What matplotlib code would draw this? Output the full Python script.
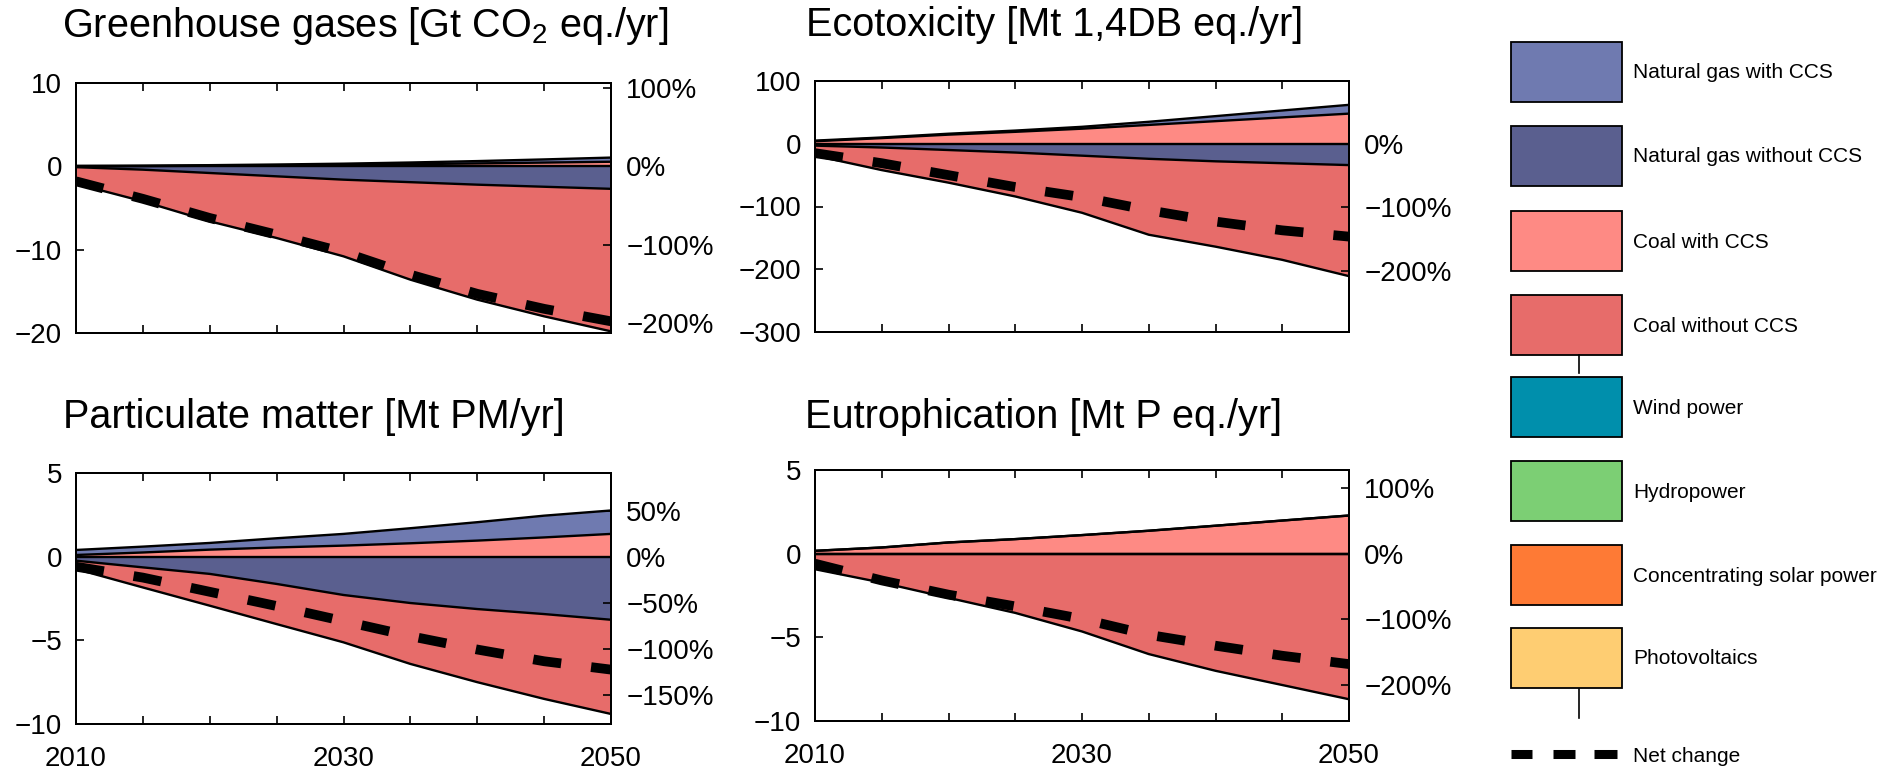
import numpy as np
import matplotlib
matplotlib.use('Agg')
import matplotlib.pyplot as plt
from matplotlib.patches import Rectangle
from matplotlib.lines import Line2D
from matplotlib.transforms import ScaledTranslation

plt.rcParams['font.family'] = ['Liberation Sans', 'DejaVu Sans']
plt.rcParams['mathtext.fontset'] = 'custom'
plt.rcParams['mathtext.rm'] = 'Liberation Sans'
plt.rcParams['mathtext.default'] = 'regular'

W, H = 1880, 773

years = [2010, 2015, 2020, 2025, 2030, 2035, 2040, 2045, 2050]

# greenhouse gases [Gt CO2 eq./yr]
ghg_coal_ccs = [0.0, 0.03, 0.07, 0.12, 0.18, 0.26, 0.35, 0.45, 0.55]
ghg_gas_ccs = [0.05, 0.05, 0.07, 0.1, 0.14, 0.2, 0.28, 0.38, 0.5]
ghg_gas_wo = [-0.1, -0.4, -0.8, -1.2, -1.6, -1.9, -2.2, -2.45, -2.7]
ghg_coal_wo = [-2.0, -3.8, -5.8, -7.4, -9.2, -11.7, -13.8, -15.55, -17.1]
ghg_net = [-1.8, -3.9, -6.2, -8.2, -10.3, -13.0, -15.3, -17.1, -18.6]
ghg_base = 9.4   # value that equals 100% on the right axis

# ecotoxicity [Mt 1,4DB eq./yr]
eco_coal_ccs = [4, 9, 14.5, 19, 24, 30, 36, 42, 48]
eco_gas_ccs = [1, 1, 1.5, 2, 3, 5, 8, 11, 14]
eco_gas_wo = [-3, -6, -10, -14, -19, -24, -28, -31, -34]
eco_coal_wo = [-16, -36, -52, -70, -91, -121, -136, -154, -177]
eco_net = [-15, -31, -50, -69, -85, -106, -124, -138, -148]
eco_base = 101

# particulate matter [Mt PM/yr]
pm_coal_ccs = [0.1, 0.25, 0.42, 0.55, 0.66, 0.8, 0.96, 1.15, 1.36]
pm_gas_ccs = [0.3, 0.35, 0.4, 0.55, 0.7, 0.9, 1.1, 1.3, 1.4]
pm_gas_wo = [-0.24, -0.64, -1.03, -1.63, -2.29, -2.77, -3.13, -3.43, -3.77]
pm_coal_wo = [-0.5, -1.2, -1.9, -2.4, -2.83, -3.64, -4.37, -5.07, -5.63]
pm_net = [-0.6, -1.25, -2.1, -2.95, -3.85, -4.75, -5.55, -6.25, -6.75]
pm_base = 5.5

# eutrophication [Mt P eq./yr]
eut_coal_ccs = [0.17, 0.37, 0.67, 0.87, 1.11, 1.37, 1.67, 1.98, 2.28]
eut_gas_ccs = [0, 0, 0, 0, 0, 0, 0, 0, 0]
eut_gas_wo = [0, 0, 0, 0, 0, 0, 0, 0, 0]
eut_coal_wo = [-0.93, -1.73, -2.64, -3.54, -4.65, -6.0, -7.0, -7.85, -8.7]
eut_net = [-0.6, -1.6, -2.45, -3.15, -3.9, -4.85, -5.5, -6.1, -6.6]
eut_base = 3.92

legend_labels = ['Natural gas with CCS', 'Natural gas without CCS', 'Coal with CCS',
                 'Coal without CCS', 'Wind power', 'Hydropower',
                 'Concentrating solar power', 'Photovoltaics']
legend_colors = ['#6f7ab0', '#5a5f8f', '#fe8a84', '#e76c6a',
                 '#008fac', '#7ccf74', '#fe7a35', '#fecd72']
c_gas_ccs, c_gas_wo, c_coal_ccs, c_coal_wo = legend_colors[:4]

fig = plt.figure(figsize=(W / 100, H / 100), dpi=100)


def px_axes(left, top, width, height):
    return fig.add_axes([left / W, 1 - (top + height) / H, width / W, height / H])


def fmt_pct(v):
    return ('%d%%' % v).replace('-', '\u2212')


def draw_panel(ax, coal_ccs, gas_ccs, gas_wo, coal_wo, net, ylim, yticks, base, rticks, xlabels):
    yrs = np.array(years)
    p1 = np.array(coal_ccs, float)
    p2 = p1 + np.array(gas_ccs, float)
    n1 = np.array(gas_wo, float)
    n2 = n1 + np.array(coal_wo, float)
    ax.fill_between(yrs, 0, p1, color=c_coal_ccs, lw=0)
    ax.fill_between(yrs, p1, p2, color=c_gas_ccs, lw=0)
    ax.fill_between(yrs, 0, n1, color=c_gas_wo, lw=0)
    ax.fill_between(yrs, n1, n2, color=c_coal_wo, lw=0)
    for b in (p1, p2, n1, n2, np.zeros(len(yrs))):
        ax.plot(yrs, b, color='k', lw=1.7)
    ax.plot(yrs, net, color='k', lw=7, dashes=(2.9, 3.1), dash_capstyle='butt')

    ax.set_xlim(2010, 2050)
    ax.set_ylim(*ylim)
    ax.set_yticks(yticks)
    ax.set_yticklabels([str(v).replace('-', '\u2212') for v in yticks])
    ax.set_xticks([2010, 2030, 2050])
    ax.set_xticks(np.arange(2015, 2050, 5), minor=True)
    if xlabels:
        ax.set_xticklabels(['2010', '2030', '2050'])
        shift = ScaledTranslation(8 / 100, 0, fig.dpi_scale_trans)
        for lab in ax.get_xticklabels():
            lab.set_transform(lab.get_transform() + shift)
    else:
        ax.set_xticklabels([])
    ax.tick_params(axis='x', which='both', direction='in', top=True, length=6,
                   width=1.2, labelsize=20, pad=16)
    ax.tick_params(axis='y', direction='in', length=6, width=1.2, labelsize=20, pad=10)
    for s in ax.spines.values():
        s.set_linewidth(1.4)

    ax2 = ax.twinx()
    ax2.set_ylim(ylim[0] / base * 100, ylim[1] / base * 100)
    ax2.set_yticks(rticks)
    ax2.set_yticklabels([fmt_pct(v) for v in rticks])
    ax2.tick_params(axis='y', direction='in', length=6, width=1.2, labelsize=20, pad=11)
    for s in ax2.spines.values():
        s.set_linewidth(1.4)


ax_ghg = px_axes(76, 83, 535, 250)
draw_panel(ax_ghg, ghg_coal_ccs, ghg_gas_ccs, ghg_gas_wo, ghg_coal_wo, ghg_net,
           (-20, 10), [10, 0, -10, -20], ghg_base, [100, 0, -100, -200], False)

ax_eco = px_axes(815, 81, 534, 251)
draw_panel(ax_eco, eco_coal_ccs, eco_gas_ccs, eco_gas_wo, eco_coal_wo, eco_net,
           (-300, 100), [100, 0, -100, -200, -300], eco_base, [0, -100, -200], False)

ax_pm = px_axes(76, 473, 535, 251)
draw_panel(ax_pm, pm_coal_ccs, pm_gas_ccs, pm_gas_wo, pm_coal_wo, pm_net,
           (-10, 5), [5, 0, -5, -10], pm_base, [50, 0, -50, -100, -150], True)

ax_eut = px_axes(815, 470, 534, 251)
draw_panel(ax_eut, eut_coal_ccs, eut_gas_ccs, eut_gas_wo, eut_coal_wo, eut_net,
           (-10, 5), [5, 0, -5, -10], eut_base, [100, 0, -100, -200], True)

# panel titles, left aligned above each plot
titles = [(62, 37, r'Greenhouse gases [Gt CO$_2$ eq./yr]'),
          (806, 36, 'Ecotoxicity [Mt 1,4DB eq./yr]'),
          (63, 428, 'Particulate matter [Mt PM/yr]'),
          (805, 428, 'Eutrophication [Mt P eq./yr]')]
for x, y, t in titles:
    fig.text(x / W, 1 - y / H, t, fontsize=28.5, ha='left', va='baseline')

# legend drawn by hand
box_tops = [42, 126, 211, 295, 377, 461, 545, 628]
for top, lab, col in zip(box_tops, legend_labels, legend_colors):
    fig.add_artist(Rectangle((1511 / W, 1 - (top + 60) / H), 111 / W, 60 / H,
                             transform=fig.transFigure, fc=col, ec='k', lw=1.3))
    fig.text(1633 / W, 1 - (top + 31) / H, lab, fontsize=15, ha='left', va='center')

for y0, y1 in [(355, 373), (689, 718)]:
    fig.add_artist(Line2D([1579 / W, 1579 / W], [1 - y0 / H, 1 - y1 / H],
                          transform=fig.transFigure, color='k', lw=1.2))

for x0, x1 in [(1511, 1532), (1553, 1575), (1594, 1617)]:
    fig.add_artist(Line2D([x0 / W, x1 / W], [1 - 754 / H, 1 - 754 / H],
                          transform=fig.transFigure, color='k', lw=6.5,
                          solid_capstyle='butt'))
fig.text(1633 / W, 1 - 756 / H, 'Net change', fontsize=15, ha='left', va='center')

fig.savefig('out.png', dpi=100)
